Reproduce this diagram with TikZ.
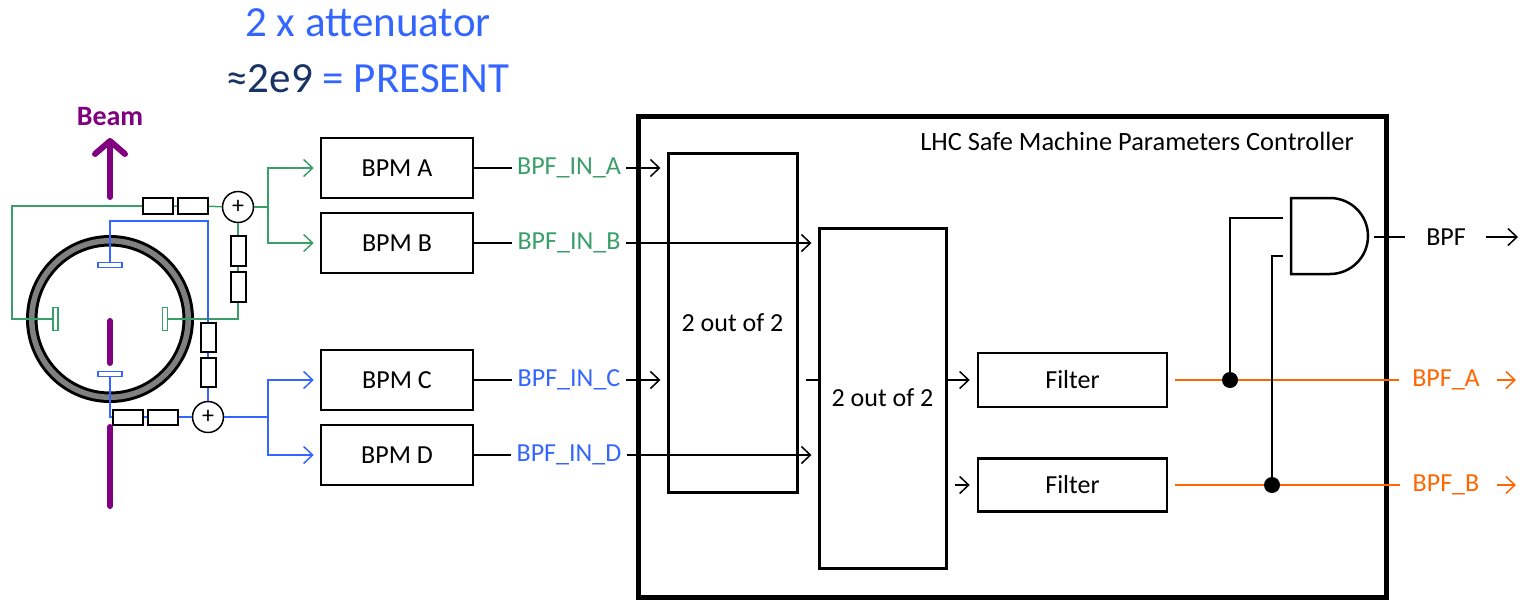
\documentclass[tikz,border=0pt]{standalone}
\usepackage{fontspec}
\setmainfont{Carlito}
\usetikzlibrary{arrows.meta}
\definecolor{pugreen}{RGB}{58,158,104}
\definecolor{publue}{RGB}{51,102,255}
\definecolor{punavy}{RGB}{24,52,100}
\definecolor{beamviolet}{RGB}{128,0,128}
\definecolor{outorange}{RGB}{255,102,0}
\definecolor{ringgray}{RGB}{128,128,128}
\tikzset{
  box/.style={draw, line width=2.5pt, minimum width=152pt, minimum height=60pt, inner sep=0pt},
  votebox/.style={draw, line width=3pt, inner sep=0pt},
  res/.style={draw, line width=2pt, fill=white, inner sep=0pt},
  sum/.style={draw, circle, line width=1.5pt, fill=white, minimum size=31pt, inner sep=0pt, font=\fontsize{24}{24}\selectfont},
  elec/.style={fill=white, line width=1.2pt, inner sep=0pt},
  sig/.style={line width=1.5pt},
  tip/.style={-{Straight Barb[length=9pt,width=17pt]}},
  lbl/.style={inner sep=5pt},
  dot/.style={circle, fill, minimum size=16pt, inner sep=0pt},
  beam/.style={line width=6pt, beamviolet, line cap=round},
}
\begin{document}
\begin{tikzpicture}[x=1pt,y=-1pt,font=\fontsize{26}{31}\selectfont]
    \useasboundingbox (0,0) rectangle (1523,600);
    % Ueberschrift
    \node[anchor=base, font=\fontsize{43}{50}\selectfont, text=publue] (att) at (368,36) {2 x attenuator};
    \node[anchor=base, font=\fontsize{43}{50}\selectfont, text=publue] (pres) at (368,92) {\textcolor{punavy}{≈2e9} = PRESENT};
    % Rahmen SMP-Controller
    \draw[line width=5pt] (638,116) rectangle (1386,597);
    \node[anchor=base, font=\fontsize{26.4}{31}\selectfont] (smp) at (1137,150) {LHC Safe Machine Parameters Controller};
    % Elektroden
    \node[elec, draw=pugreen, minimum width=5pt, minimum height=23pt] (eL) at (55.5,319) {};
    \node[elec, draw=pugreen, minimum width=5pt, minimum height=23pt] (eR) at (165,319) {};
    \node[elec, draw=publue, minimum width=24pt, minimum height=5pt] (eT) at (110,265) {};
    \node[elec, draw=publue, minimum width=24pt, minimum height=5pt] (eB) at (110,374) {};
    % Widerstaende und Summierer
    \node[res, minimum width=30pt, minimum height=16pt] (rg1) at (158,206) {};
    \node[res, minimum width=30pt, minimum height=16pt] (rg2) at (193,206) {};
    \node[res, minimum width=15pt, minimum height=30pt] (rg3) at (238,251) {};
    \node[res, minimum width=15pt, minimum height=30pt] (rg4) at (238,286.5) {};
    \node[sum] (sumG) at (238,207) {+};
    \node[res, minimum width=15pt, minimum height=29pt] (rb1) at (208,337.5) {};
    \node[res, minimum width=15pt, minimum height=29pt] (rb2) at (208,372) {};
    \node[res, minimum width=30pt, minimum height=15pt] (rb3) at (128,417) {};
    \node[res, minimum width=30pt, minimum height=15pt] (rb4) at (163,417) {};
    \node[sum] (sumB) at (208,417) {+};
    % BPMs
    \node[box] (bpmA) at (397,168) {BPM A};
    \node[box] (bpmB) at (397,243) {BPM B};
    \node[box] (bpmC) at (397,380) {BPM C};
    \node[box] (bpmD) at (397,455) {BPM D};
    % Strahlrohr
    \fill[black, even odd rule] (110,319) circle (84) circle (72.5);
    \fill[ringgray, even odd rule] (110,319) circle (81) circle (75.5);
    % Verdrahtung horizontal (gruen)
    \coordinate (gTop) at (12,206);
    \coordinate (gSplit) at (268,207);
    \draw[sig, pugreen] (eL.west) -| (gTop) -- (rg1);
    \draw[sig, pugreen] (rg1) -- (rg2) -- (sumG);
    \draw[sig, pugreen] (eR.east) -| (rg4);
    \draw[sig, pugreen] (rg4) -- (rg3) -- (sumG);
    \draw[sig, pugreen] (sumG) -- (gSplit);
    \draw[sig, pugreen, tip, shorten >=6pt] (gSplit) |- (bpmA);
    \draw[sig, pugreen, tip, shorten >=6pt] (gSplit) |- (bpmB);
    % Verdrahtung vertikal (blau)
    \coordinate (bTop) at (208,221);
    \coordinate (bSplit) at (268,417);
    \draw[sig, publue] (eT.north) |- (bTop) -- (rb1);
    \draw[sig, publue] (rb1) -- (rb2) -- (sumB);
    \draw[sig, publue] (eB.south) |- (rb3);
    \draw[sig, publue] (rb3) -- (rb4) -- (sumB);
    \draw[sig, publue] (sumB) -- (bSplit);
    \draw[sig, publue, tip, shorten >=6pt] (bSplit) |- (bpmC);
    \draw[sig, publue, tip, shorten >=6pt] (bSplit) |- (bpmD);
    % Strahl
    \draw[beam, -{Straight Barb[length=13pt,width=30pt,round]}] (110,197) -- (110,138);
    \draw[beam] (110,321) -- (110,363);
    \draw[beam] (110,427) -- (110,506);
    \node[anchor=base, font=\bfseries\fontsize{28}{30}\selectfont, text=beamviolet] (beamlbl) at (110,125) {Beam};
    % 2 out of 2 und Filter
    \node[votebox, minimum width=129pt, minimum height=339pt] (vote1) at (732.5,322.5) {2 out of 2};
    \node[votebox, minimum width=127pt, minimum height=340pt] (vote2) at (882.5,398) {2 out of 2};
    \node[box, minimum width=189pt, minimum height=54pt] (filtA) at (1072.5,380) {Filter};
    \node[box, minimum width=189pt, minimum height=53pt] (filtB) at (1072.5,485) {Filter};
    % Eingaenge BPF_IN
    \node[lbl, text=pugreen] (inA) at (569,168) {BPF\_IN\_A};
    \node[lbl, text=pugreen] (inB) at (569,243) {BPF\_IN\_B};
    \node[lbl, text=publue] (inC) at (569,380) {BPF\_IN\_C};
    \node[lbl, text=publue] (inD) at (569,455) {BPF\_IN\_D};
    \draw[sig] (bpmA) -- (inA);
    \draw[sig] (bpmB) -- (inB);
    \draw[sig] (bpmC) -- (inC);
    \draw[sig] (bpmD) -- (inD);
    \draw[sig, tip, shorten >=6pt] (inA.east) -- (inA.east -| vote1.west);
    \draw[sig, tip, shorten >=6pt] (inB.east) -- (inB.east -| vote2.west);
    \draw[sig, tip, shorten >=6pt] (inC.east) -- (inC.east -| vote1.west);
    \draw[sig, tip, shorten >=6pt] (inD.east) -- (inD.east -| vote2.west);
    \draw[sig] (vote1.east |- filtA.west) ++(7,0) -- (vote2.west |- filtA.west);
    \draw[sig, tip, shorten >=7pt] (vote2.east |- filtA.west) -- (filtA.west);
    \draw[sig, tip, shorten >=7pt] (vote2.east |- filtB.west) ++(7,0) -- (filtB.west);
    % Ausgaenge
    \node[lbl, text=outorange] (outA) at (1446,380) {BPF\_A};
    \node[lbl, text=outorange] (outB) at (1446,485) {BPF\_B};
    \coordinate (endA) at (1516,380);
    \coordinate (endB) at (1516,485);
    \draw[sig, outorange, shorten <=7pt, shorten >=8pt] (filtA) -- (outA);
    \draw[sig, outorange, shorten <=7pt, shorten >=8pt] (filtB) -- (outB);
    \draw[sig, outorange, tip, shorten <=12pt] (outA) -- (endA);
    \draw[sig, outorange, tip, shorten <=12pt] (outB) -- (endB);
    % UND-Gatter
    \draw[line width=2.5pt] (1291,198) -- (1330,198) arc[start angle=-90, end angle=90, radius=38] -- (1291,274) -- cycle;
    \coordinate (andIn1) at (1283,218);
    \coordinate (andIn2) at (1283,256);
    \coordinate (andOut) at (1374,237);
    \node[dot] (jA) at (1230,380) {};
    \node[dot] (jB) at (1272,485) {};
    \draw[sig] (jA) |- (andIn1);
    \draw[sig] (jB) |- (andIn2);
    \node[lbl] (bpf) at (1446,237) {BPF};
    \coordinate (endBPF) at (1518,237);
    \draw[sig, shorten >=16pt] (andOut) -- (bpf);
    \draw[sig, tip, shorten <=15pt] (bpf) -- (endBPF);
\end{tikzpicture}
\end{document}
